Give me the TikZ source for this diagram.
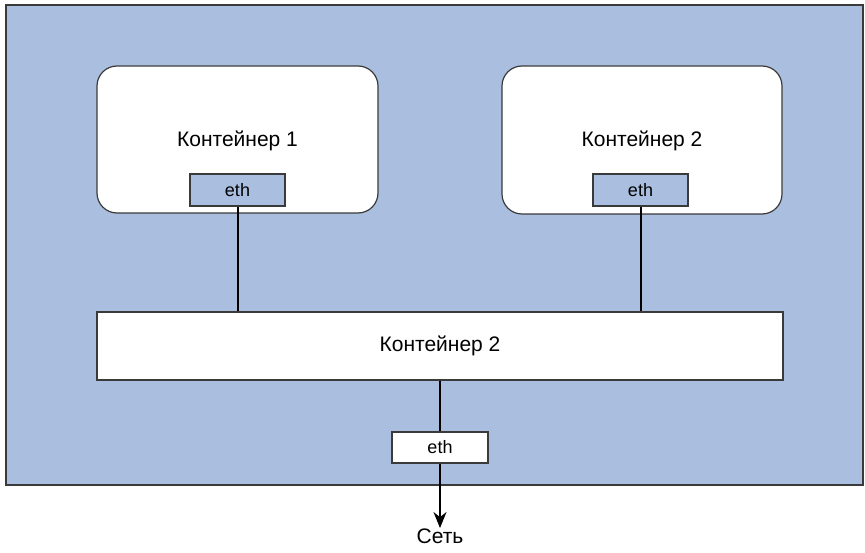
\documentclass[tikz,border=0pt]{standalone}
\usepackage{fontspec}
\setmainfont{Liberation Sans}
\usetikzlibrary{arrows.meta}
\definecolor{bgblue}{HTML}{AABFDF}
\definecolor{edge}{HTML}{3A3A3A}
\begin{document}
\begin{tikzpicture}[x=1pt,y=-1pt,
  box/.style={draw=edge,line width=1.2pt,inner sep=0pt},
  cont/.style={box,fill=white,rounded corners=20pt},
  ethbox/.style={box,minimum width=95pt,minimum height=32pt,font=\fontsize{18}{21}\selectfont},
  lbl/.style={font=\fontsize{21}{24}\selectfont,inner sep=0pt},
  wire/.style={draw=black,line width=2pt}]
\useasboundingbox (0,0) rectangle (865,553);
\node[box,fill=bgblue,minimum width=857pt,minimum height=480pt] (bg) at (434.5,245) {};
\node[cont,minimum width=281pt,minimum height=147pt] (c1) at (237.5,139.5) {};
\node[lbl] (t1) at (237.5,141) {Контейнер 1};
\node[ethbox,fill=bgblue] (e1) at (237.5,190) {eth};
\node[cont,minimum width=280pt,minimum height=148pt] (c2) at (642,140) {};
\node[lbl] (t2) at (642,141) {Контейнер 2};
\node[ethbox,fill=bgblue] (e2) at (640.5,190) {eth};
\node[box,fill=white,minimum width=686pt,minimum height=68pt,font=\fontsize{21}{24}\selectfont] (br) at (440,346) {Контейнер 2};
\node[ethbox,fill=white,minimum width=96pt,minimum height=31pt] (e3) at (440,447.5) {eth};
\node[lbl,anchor=north,inner ysep=1pt] (net) at (440,528) {Сеть};
\draw[wire] (e1.south) -- (e1.south |- br.north);
\draw[wire] (e2.south) -- (e2.south |- br.north);
\draw[wire] (br.south) -- (e3.north);
\draw[wire,-{Stealth[length=16pt,width=13pt]}] (e3.south) -- (net.north);
\end{tikzpicture}
\end{document}
